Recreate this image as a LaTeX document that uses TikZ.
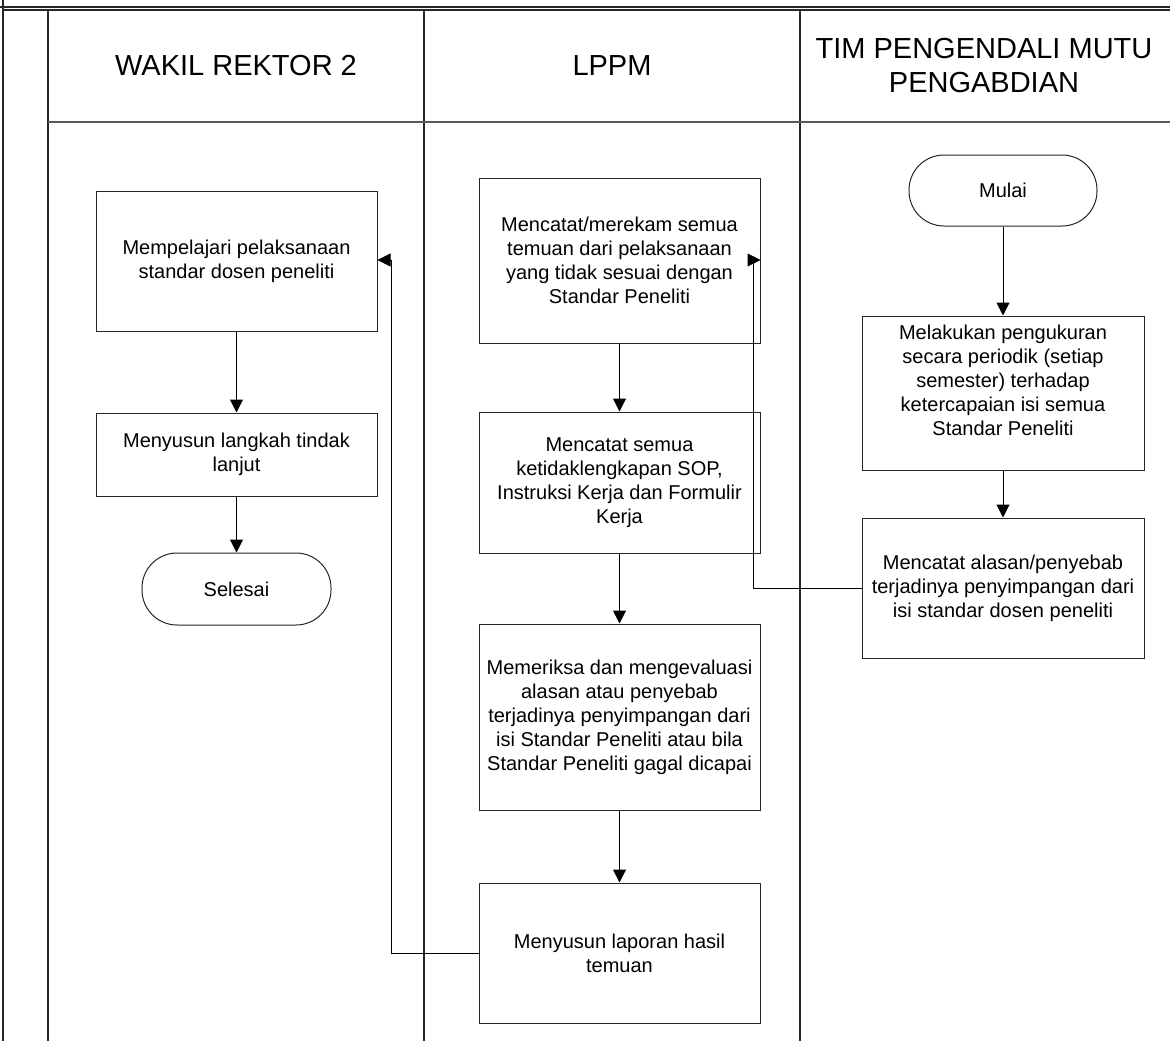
\documentclass[tikz,border=0pt]{standalone}
\usepackage{fontspec}
\setmainfont{Liberation Sans}
\usetikzlibrary{arrows.meta}
\begin{document}
\begin{tikzpicture}[x=1pt,y=-1pt,
  lane/.style={line width=1.2pt, draw=black!85},
  proc/.style={draw=black!85, line width=1pt, fill=white, align=center, inner sep=4pt,
    font=\fontsize{20}{24}\selectfont, minimum width=281},
  txt/.style={align=center, inner sep=0pt, font=\fontsize{20}{24}\selectfont},
  term/.style={proc, rounded corners=35pt},
  head/.style={align=center, font=\fontsize{29}{34}\selectfont},
  arr/.style={draw=black, line width=1pt, -{Triangle[length=13pt,width=13pt]}},
  con/.style={draw=black, line width=1pt}]
\useasboundingbox (0,0) rectangle (1170,1041);
% frame and lanes
\draw[lane] (0,7) -- (1170,7);
\draw[lane] (3,10) -- (1170,10);
\draw[lane] (3,0) -- (3,1041);
\draw[lane] (48,10) -- (48,1041);
\draw[lane] (424,10) -- (424,1041);
\draw[lane] (800,10) -- (800,1041);
\draw[lane, draw=black!65] (48,122) -- (1170,122);
% headers
\node[head] (h1) at (236,66) {WAKIL REKTOR 2};
\node[head] (h2) at (612,66) {LPPM};
\node[head] (h3) at (984,66) {TIM PENGENDALI MUTU\\PENGABDIAN};
% lane 1
\node[proc, minimum height=140] (b1) at (236.5,261) {Mempelajari pelaksanaan\\standar dosen peneliti};
\node[proc, minimum height=83] (b2) at (236.5,454.5) {Menyusun langkah tindak\\lanjut};
\node[term, minimum width=189, minimum height=72] (sel) at (236.5,589) {Selesai};
% lane 2
\node[proc, minimum height=165] (c1) at (619.5,260.5) {Mencatat/merekam semua\\temuan dari pelaksanaan\\yang tidak sesuai dengan\\Standar Peneliti};
\node[proc, minimum height=141] (c2) at (619.5,482.5) {Mencatat semua\\ketidaklengkapan SOP,\\Instruksi Kerja dan Formulir\\Kerja};
\node[proc, minimum height=186] (c3) at (619.5,717) {Memeriksa dan mengevaluasi\\alasan atau penyebab\\terjadinya penyimpangan dari\\isi Standar Peneliti atau bila\\Standar Peneliti gagal dicapai};
\node[proc, minimum height=140] (c4) at (619.5,953) {Menyusun laporan hasil\\temuan};
% lane 3
\node[term, minimum width=188, minimum height=71] (mulai) at (1003,190.5) {Mulai};
\node[proc, minimum width=282, minimum height=154] (d1) at (1003,393) {};
\node[txt] (d1t) at (1003,380) {Melakukan pengukuran\\secara periodik (setiap\\semester) terhadap\\ketercapaian isi semua\\Standar Peneliti};
\node[proc, minimum width=282, minimum height=140] (d2) at (1003,588) {Mencatat alasan/penyebab\\terjadinya penyimpangan dari\\isi standar dosen peneliti};
% connectors
\draw[arr] (mulai) -- (d1);
\draw[arr] (d1) -- (d2);
\draw[arr] (c1) -- (c2);
\draw[arr] (c2) -- (c3);
\draw[arr] (c3) -- (c4);
\draw[arr] (b1) -- (b2);
\draw[arr] (b2) -- (sel);
\coordinate (fb1) at (753,260);
\draw[con] (d2.west) -| (fb1);
\draw[arr] (fb1) -- (fb1 -| c1.east);
\coordinate (fb2) at (391,260);
\draw[con] (c4.west) -| (fb2);
\draw[arr] (fb2) -- (fb2 -| b1.east);
\end{tikzpicture}
\end{document}
